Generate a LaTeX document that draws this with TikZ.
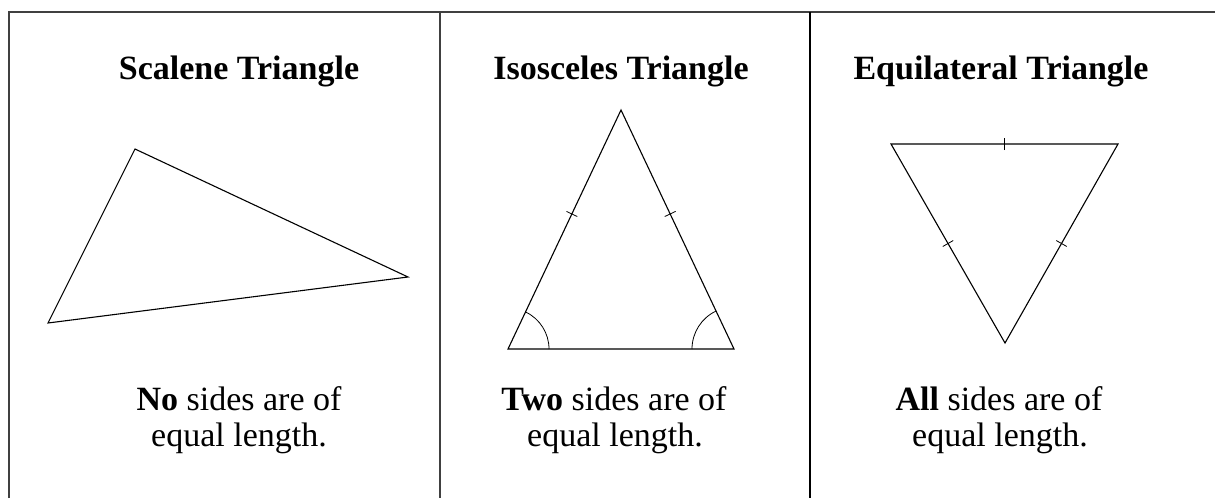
\documentclass[tikz,border=0pt]{standalone}
\usepackage{fontspec}
\setmainfont{Liberation Serif}
\usetikzlibrary{calc}
\begin{document}
\begin{tikzpicture}[x=1pt,y=-1pt,
  frame/.style={line width=1.3pt,draw=black!75},
  tri/.style={line width=1.1pt,line join=miter},
  tick/.style={line width=0.8pt},
  title/.style={font=\fontsize{34}{40}\selectfont\bfseries,anchor=base,inner sep=0pt},
  body/.style={font=\fontsize{34}{40}\selectfont,anchor=base,inner sep=0pt}]
\useasboundingbox (0,0) rectangle (1215,498);
% frame
\coordinate (fl) at (9,498);
\coordinate (ftl) at (9,12);
\coordinate (ftr) at (1215,12);
\coordinate (d1t) at (440,12);
\coordinate (d1b) at (440,498);
\coordinate (d2t) at (810,12);
\coordinate (d2b) at (810,498);
\draw[frame] (fl) -- (ftl) -- (ftr);
\draw[frame] (d1t) -- (d1b);
\draw[frame,draw=black] (d2t) -- (d2b);
% titles
\node[title] (t1) at (239,79) {Scalene Triangle};
\node[title] (t2) at (621,79) {Isosceles Triangle};
\node[title] (t3) at (1001,79) {Equilateral Triangle};
% bodies
\node[body] (b1a) at (239,410) {\textbf{No} sides are of};
\node[body] (b1b) at (239,446) {equal length.};
\node[body] (b2a) at (614,410) {\textbf{Two} sides are of};
\node[body] (b2b) at (615,446) {equal length.};
\node[body] (b3a) at (999,410) {\textbf{All} sides are of};
\node[body] (b3b) at (1000,446) {equal length.};
% scalene
\coordinate (sa) at (135,149);
\coordinate (sb) at (408,277);
\coordinate (sc) at (48,323);
\draw[tri] (sa) -- (sb) -- (sc) -- cycle;
% isosceles
\coordinate (ia) at (621,110);
\coordinate (ib) at (508,349);
\coordinate (ic) at (734,349);
\draw[tri] (ia) -- (ic) -- (ib) -- cycle;
\coordinate (it1) at ($(ia)!0.435!(ib)$);
\coordinate (it2) at ($(ia)!0.435!(ic)$);
\draw[tick] ($(it1)!6pt!90:(ia)$) -- ($(it1)!6pt!-90:(ia)$);
\draw[tick] ($(it2)!6pt!90:(ia)$) -- ($(it2)!6pt!-90:(ia)$);
\draw[tick] ($(ib)+(41,0)$) arc[start angle=0,end angle=64.7,radius=41pt];
\draw[tick] ($(ic)+(-42,0)$) arc[start angle=180,end angle=115.3,radius=42pt];
% equilateral
\coordinate (ea) at (891,144);
\coordinate (eb) at (1118,144);
\coordinate (ec) at (1005,343);
\draw[tri] (ea) -- (eb) -- (ec) -- cycle;
\coordinate (et1) at ($(ea)!0.5!(eb)$);
\coordinate (et2) at ($(ea)!0.5!(ec)$);
\coordinate (et3) at ($(eb)!0.5!(ec)$);
\draw[tick] ($(et1)!6pt!90:(ea)$) -- ($(et1)!6pt!-90:(ea)$);
\draw[tick] ($(et2)!6pt!90:(ea)$) -- ($(et2)!6pt!-90:(ea)$);
\draw[tick] ($(et3)!6pt!90:(eb)$) -- ($(et3)!6pt!-90:(eb)$);
\end{tikzpicture}
\end{document}
